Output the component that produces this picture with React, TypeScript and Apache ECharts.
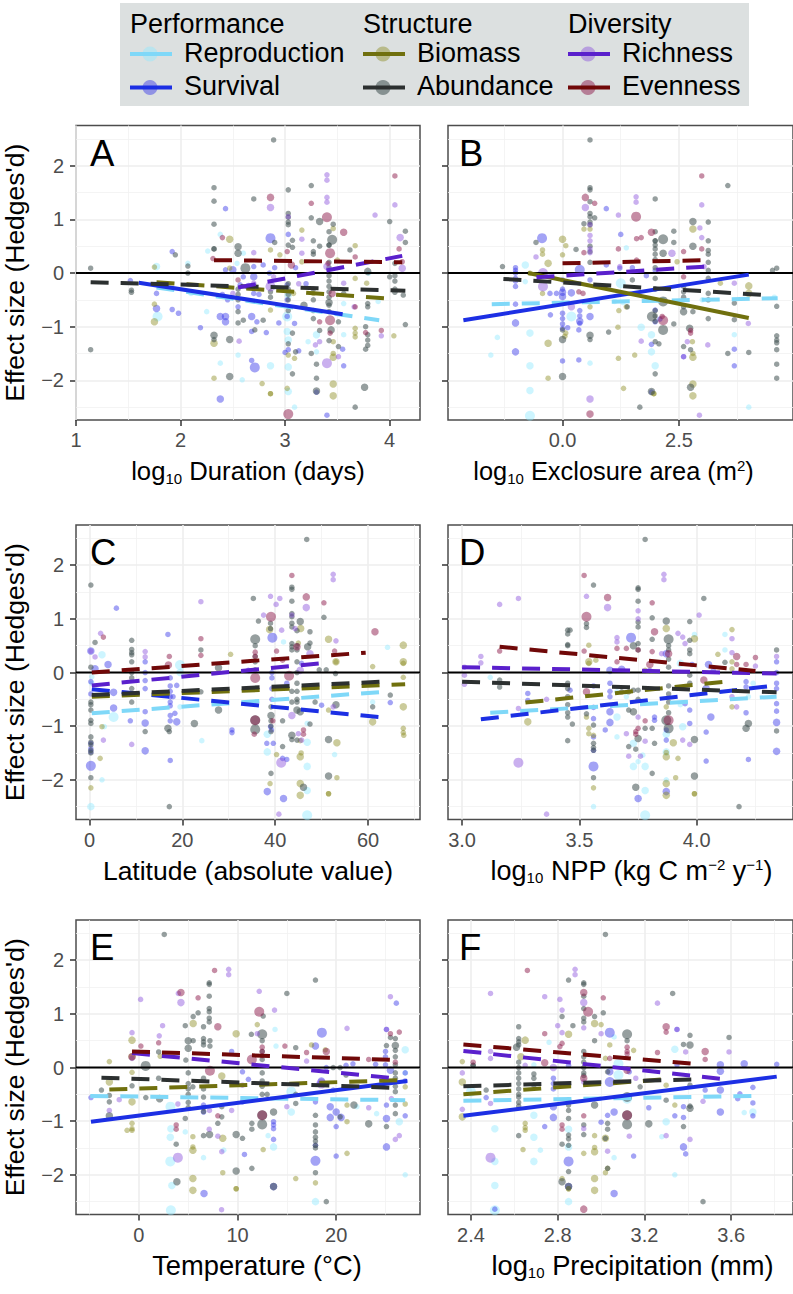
import React, { useEffect, useRef } from "react";
import * as echarts from "echarts";

// Each point: [x, effect size, weight class]; weight 1 when omitted.
const aReproduction = [[1.77,.12,2],[1.78,-.81,3],[2.38,.72],[2.26,.41],[2.07,.18],[2.25,-.72],[2.1,-.38],[2.38,-1.68],[2.55,-1.53],[2.59,-1.99],[2.86,-1.73,2],[3.03,-1.75,2],[3.03,-2.21,2],[3.09,-2.5],[3.02,-1.09,2],[3.02,-.81,3],[3.03,-.41,2],[3.3,-1.15,2],[3.3,-1.47],[3.22,-1.28],[3.56,-1.15],[3.56,-.57],[3.89,-.53],[2.6,.37],[2.54,.18],[3.03,-1.25,2],[3.8,0]];
const aSurvival = [[1.92,.4],[1.52,-.14],[1.77,-.38],[1.77,-.66,2],[1.92,-.68],[1.98,-.75],[2.19,-1.02],[2.43,1.2],[2.86,.65,3],[3.03,.72],[2.38,-.81,2],[2.43,-.81,2],[2.43,-.91,2],[2.38,-2.35,2],[2.68,-1.09],[2.73,-.91],[2.68,-.81,2],[2.68,-1.63],[2.71,-1.76,3],[2.82,-1.11],[2.94,-.93],[3.09,-.94],[3,-1.48],[3.13,-1.45],[3.03,-1.43],[3.3,-2.22],[3.4,-2.65],[3.55,-1.42],[3.56,-1.73],[2.55,-.63],[2.43,.06],[2.7,-.38],[2.7,.12],[2.79,.15],[2.6,-.07],[2.5,.06,2],[2.7,-.07,2],[2.57,-.22],[3.02,-.22],[3.02,-.5],[3.02,-.81],[2.75,-.4],[2.4,-.4],[2.45,-.5],[2.85,0],[3.1,.1],[3.2,-.2],[2.65,-.25,2],[2.9,.1]];
const aBiomass = [[1.75,.11],[1.75,-.91,2],[1.75,-.58],[2.47,.63,2],[2.32,-1.31,2],[2.32,-1.96],[2.78,-2.06],[2.86,-2.25],[2.86,-2.25],[2.86,.43],[2.86,-.69],[3.02,-2.15],[3.03,-1.53],[3.09,-1.59],[3.16,.8],[3.16,.21],[3.46,.83],[3.46,-1.5],[3.46,-1.57,2],[3.46,-2.07,2],[3.46,-2.29,2],[3.67,.51],[3.67,-.1],[3.67,-1.03],[3.67,-1.12],[3.67,-1.19],[4.04,-1.17],[3.78,-.19],[2.95,.34],[3.08,-.38],[3.27,-.38],[3.46,-1.28],[2.47,.09],[3.5,.24]];
const aAbundance = [[1.14,.09],[1.14,-1.43],[1.53,-.32],[1.53,-.36],[1.95,.34],[2.07,.13],[2.07,0],[2.89,2.48],[2.32,1.59],[2.32,1.34],[2.32,.91],[2.32,.45],[2.32,.45],[2.32,-1.16,2],[2.32,-1.24],[3.03,1.55],[3.25,1.63],[2.7,1.38],[3.03,1.11],[3.03,1.04],[3.03,.95],[3.03,.9],[3.25,1.03],[3.33,.96,2],[3.45,.62,3],[3.46,.91],[3.42,.77],[3.42,.52],[3.42,.52],[3.03,.52],[3.07,.48],[2.55,.49,2],[2.55,.37,2],[2.62,.09,3],[2.9,.57],[3.07,.61],[3.27,.6],[3.27,.4],[3.27,.35],[3.33,.5],[3.42,.2],[3.42,.1],[3.42,-.05],[3.42,-.15],[3.42,-.25],[3.42,-.35],[3.42,-.45],[3.42,-.55,2],[3.42,-.6],[3.42,-.72],[3.44,-1.06,2],[3.42,-1.26],[3.62,.43],[3.79,.03,2],[4,.96],[4.15,.78],[4.15,.57],[4.05,.18],[4.05,-.05],[4.05,-.15],[4.05,-.3],[4.05,-.36],[4.13,-.41],[4.15,-.96],[4,-.07],[3.79,-.57],[3.79,-.63],[3.77,-1],[3.79,-1.15],[3.79,-1.25],[3.79,-1.35],[3.77,-1.42],[3.76,-2.13,2],[3.67,-2.5],[2.55,-.3],[2.55,-.4],[2.55,-.5],[2.55,-.72],[2.55,-.93],[2.6,-.88],[2.47,-1.24,2],[2.47,-1.93,2],[2.71,-1.06],[2.79,-.88],[2.86,-.35],[2.86,-.45],[3.03,-.2],[3.03,-.3],[3.03,-.4],[3.03,-.5],[3.03,-.7],[3.03,-1.32],[3.07,-1.12],[3.07,-1.88],[3.1,-1.47],[3.18,-.6,2],[3.27,-.3],[3.27,-.5],[3.27,-.7],[3.27,-.85],[3.25,-1.5],[3.3,-1.7],[3.3,-1.96],[3.3,-2.2,2],[3.51,-.91],[3.51,-1.37],[3.33,-1.07],[3.56,-.38]];
const aRichness = [[3.4,1.83],[3.4,1.73],[3.4,1.41],[3.4,1.32],[2.86,1.22,2],[4.05,1.27],[3.86,1.08],[3.03,1.05],[3.16,.63],[4.1,.66,2],[2.7,.38],[3.16,.37],[4.12,.09,2],[3.92,-1.17],[3.4,-1.68,3],[2.56,-1.27],[3.29,-1.34],[3.33,-1.28],[3.51,-1.56],[2.5,-.38],[2.7,-.19],[3.66,-.63],[3.4,.12,2],[2.89,-.07],[2.86,-.25,3],[3.56,-.19],[3.13,-.2]];
const aEvenness = [[2.4,.66],[2.86,1.41,2],[3.25,1.3],[3.4,1.04,3],[3.56,.76,2],[4.05,1.81],[4.09,.45],[3.43,.37,3],[3.41,.18],[3.45,-.38,2],[3.43,-.88,3],[3.43,-1.12],[3.33,-.91],[3.77,-1.11],[3.92,-1.07],[3.03,-2.63,3],[2.31,.27],[3.06,.15,2],[3.67,.3],[3.67,-.63],[2.55,-.13],[4.12,.21],[3.02,.4]];

const bReproduction = [[-.8,.15,2],[-.8,-.16],[1.37,.47],[1.25,-.19,3],[1.12,-.53],[.19,-.81,3],[-.7,-1.12,2],[-1.4,-1.2],[-1.54,-1.53],[-.7,-1.73,2],[-.7,-2.19,2],[-.7,-2.66,3],[.59,-1.68],[1.69,-1.01,2],[1.91,-1.15,2],[1.91,-1.47,2],[1.99,-1.73,2],[3.69,-1.15],[4,-2.5],[2.16,-.5],[3,-.5],[1.3,-.55],[4.55,-.45]];
const bSurvival = [[-.44,.65,3],[.94,1.2],[1.25,.72],[-1.01,.1],[-1.01,.05],[-1.01,0],[-1.01,-.1],[-1.01,-.15],[-1.01,-.25],[-1.01,-.58],[-1.01,-.93,2],[-1.01,-1.47,2],[0,-1.64],[.35,-1.62],[0,-.13],[0,-.3],[0,-.36,2],[0,-.44,2],[0,-.75],[0,-.85],[0,-.95],[0,-1.03],[.11,-1.02],[-.26,-.78],[.37,-.7],[.37,-.8],[.37,-.9,2],[.37,-.94],[.35,-1.06],[.59,-.81,2],[.19,-.37,2],[.37,.06,3],[-.27,-.38],[-.13,-.38],[.59,-.13],[.94,.15],[1.23,.09],[1.99,-.69],[1.99,-.91],[1.91,-1.33],[2.09,-.86],[1.91,-2.22],[3.69,-1.42],[3.69,-1.73],[2.6,-1.56],[1.8,-.05],[1.5,.1],[1.99,.05]];
const bBiomass = [[0,.63,2],[.07,.51],[0,.34],[-.43,.43],[-.43,.35],[-.31,.18,2],[-.7,0],[-.43,-.38],[.59,.82],[.46,.82],[-.31,-1.31,2],[-.31,-1.96],[1.2,-1.59],[1.55,-1.53],[1.31,-2.15],[1.19,-1.01],[1.96,-2.25],[1.96,-2.25],[2.8,.82,2],[2.46,.21],[2.8,-1.5],[2.8,-1.57,2],[2.8,-2.07,2],[2.8,-2.29,2],[2.79,-1.28],[3.39,-.19],[4,-.24,2],[4,-.38,2],[.59,-.63],[.07,-1.12],[.05,-1.18],[1.21,-.7],[1.37,-.63]];
const bAbundance = [[.59,2.48],[-1.29,.12],[-.57,.57],[.59,1.59],[.59,1.55],[.59,1.33],[.59,1.11],[.59,1.05],[.59,.95],[.59,.9],[.69,1.03],[.46,.92],[.29,.44],[1.99,1.38],[1.99,.77],[1.99,.6],[1.99,.6],[1.99,.52],[1.99,.45],[1.99,.35],[1.99,.25],[1.99,.1],[1.99,-.1],[1.99,-.3],[2.16,.63,3],[2.16,.37,2],[2.39,.78],[2.39,.57],[2.8,.96,2],[2.8,.5,2],[3.13,.95],[3.13,.6],[3.13,.42],[3.13,.35],[3.13,.2],[3.13,.05],[3.13,-.1],[3.55,1.63],[4.6,.09],[4.51,.05],[3.69,-.56],[3.69,-.87],[4,-1.48],[3.55,-1.5],[4.6,-.62],[4.6,-1.17],[4.6,-1.25],[4.6,-1.3],[4.6,-1.43],[4.6,-1.7],[4.6,-1.96],[0,-1.24,2],[0,-1.93,2],[0,-1.06],[.59,-1.16,2],[.59,-1.24],[.99,-1.1],[1.99,-.7],[1.99,-.8],[1.99,-.9],[1.92,-.81,3],[2.16,-.53,3],[2.16,-1.06,3],[1.99,-1.28],[2.07,-1.32],[1.99,-1.88],[1.91,-2.21,2],[1.66,-2.5],[2.6,-.72,2],[2.6,-.63],[2.6,-.25],[2.6,-.35],[2.6,-.45],[2.6,-1.37],[2.8,-.72],[2.75,-1.43],[2.75,-2.13,2],[3.13,-.38],[3.13,-.5],[3.13,-.85],[2.39,-.95],[2.73,-1.03,2],[1.39,-.63],[1.5,-.13],[.59,.2],[.59,.4],[.59,.5]];
const bRichness = [[1.58,1.42],[1.58,1.32],[.49,1.22,2],[2.99,1.27],[1.2,1.08],[2.95,.84],[2.99,.66],[.59,.9],[.59,.7],[.59,.6],[.59,.45],[.59,.38],[2.35,.37,2],[-.57,.3],[3.12,-1.34],[1.69,-1.27],[2.68,-1.28],[2.6,-1.56],[2.94,-2.65],[.59,-2.35,2],[3.99,-.94],[3.69,-.19],[.19,-.63,2],[-.42,-.25,3],[-.42,0,3],[1.23,.12],[3.04,.12]];
const bEvenness = [[.49,1.41,2],[.69,1.3],[1.58,1.05,3],[1.91,.76,2],[2.99,1.81],[2.99,.45],[.46,.38],[1.2,.45],[1.59,.64],[1.69,.66],[2.16,-.88,3],[2.75,-1.07],[2.75,-1.12],[.59,-2.63,2],[2.6,.4],[2.6,-.07],[1.59,.24],[.44,-.38],[.35,-.35],[2.14,-.81]];

const cReproduction = [[2.7,.33,2],[2.7,-2],[.3,-2.5,2],[19.5,.14,3],[19.5,0,2],[5.2,-.83,3],[3.2,-1.01],[24.2,-1.27],[38.3,-1.48,2],[38.3,-1.15,2],[46.9,-1.75,2],[46.9,-1.3,2],[46.9,-2.66,3],[46.9,-2.2,2],[52.8,-1.53],[64.2,.47],[41.8,.57],[46.9,-.95],[19.5,-.64],[61,-.55],[.5,-.08],[.5,-.2]];
const cSurvival = [[5.8,1.2],[.3,.4,2],[16.9,.71],[4,.15,2],[1.2,.07,2],[.3,-.17],[.3,-.4],[5.2,-.37,2],[5.2,-.66,2],[.3,-1.74,3],[.3,-1.32],[.3,-1.42],[.3,-1.48],[12,.2],[12,0],[12,-.15],[12,-.3],[12,-.73],[12,-.94,2],[12,-1.46,2],[8.8,-.9],[17.4,-1.64],[17.4,-.1],[17.4,-.25],[17.4,-.35],[17.4,-.45],[17.4,-.55],[17.4,-.62],[17.4,-.8],[17.4,-.9],[18.8,-.92,2],[18.8,-.24],[18,-.45],[18.4,-.76],[30.7,-1.07],[30.7,-1.12],[39.4,.65,3],[38.3,-2.22,2],[41.8,-2.35,2],[41.6,-1.6],[42.5,-1.62],[39.3,0],[39.3,-.1],[39.3,-.3],[39.3,-.5],[39,-1.01],[38.2,-1.32],[39.2,-1.07],[39.6,-1.32],[64.8,-.56],[34.2,.04],[42.5,-.2],[45.7,.17],[50,-.61]];
const cBiomass = [[2.3,-1.6],[.3,-2.15],[2.7,-1.01],[30.4,.34],[38.8,.8,2],[45.5,.82,2],[51.5,.62,2],[53.1,.2,2],[53.1,.2],[61,.11],[61,-.92,2],[67.6,.51,2],[67.6,.2,2],[67.6,.17],[67.6,-.09],[67.6,-.64,2],[67.6,-1.04],[67.6,-1.12],[67.7,-1.17],[51.5,-.7],[53.3,-1.31,2],[53.3,-1.96],[51.5,-2.26],[51.5,-2.26],[45.4,-2.29,2],[45.4,-2.07,2],[45.4,-1.57,2],[45.6,-1.5],[38.9,-2.07],[40.3,-1.53],[45.4,-1.27],[45,.55]];
const cAbundance = [[.3,1.63],[1.2,.56],[.3,.1],[.3,-.55],[.3,-.6],[.3,-.7],[.3,-.89],[.3,-.95],[.3,-1.2],[.3,-1.3],[.3,-1.35],[.3,-1.45],[.3,-1.5],[.3,-1.96],[9.1,.6],[9.1,.43],[9.1,.37],[9.1,.33],[9.1,.2],[9.1,0],[9.1,-.1],[9.1,-.3],[9.1,-.55],[17.2,-2.5],[16.9,-1.04,2],[17.2,-1.1],[12,-1.1],[24,.42],[24,-.36],[22.6,-.95,2],[27.8,.09,2],[27.8,-.7,2],[35.3,1.38],[36.4,.96],[35.7,.62,3],[35.7,.5],[35.7,-1.06,3],[35.7,-.89,3],[39,.92],[39,.82],[35.7,.3],[35.7,.2],[35.7,.05],[39.1,-.64],[39.1,-.8,2],[39.1,-.9],[39.1,-1],[39.1,-1.1],[39.1,-1.88],[41.6,-1.38],[41.6,-.9],[43.6,1.59],[43.6,1.55],[43.6,1.33],[43.6,1.1],[43.6,1.04],[43.6,.92],[43.6,.85],[45.4,.95,2],[44.7,.78],[47.5,.76],[43.6,.54],[43.6,.48],[43.6,.42],[44.7,.5],[44.7,.42],[47,.48,2],[47.5,.55],[44.7,.2],[44.7,0],[44.7,-.2],[44.7,-.35],[44.7,-.5],[44.7,-.55],[44.7,-.7,2],[43.6,-.35],[43.6,-.55],[45.4,-.73,2],[46.8,2.48],[43.6,-1.17,2],[43.6,-1.25],[44.7,-1.26],[47.5,-.96],[46.1,-2.14,2],[51.5,-1.25,2],[51.5,-1.93,2],[50.5,1.03],[53.1,-.6,2],[48.6,-.55],[64.8,-.42],[61,-.64],[49.5,.05],[51,.05],[53,-.02]];
const cRichness = [[2.4,.73],[1.2,.29],[52.5,1.83],[52.5,1.73],[39,1.42],[41,1.38],[40.2,1.27],[46.7,1.21,2],[37.5,1.07],[24,1.32],[53.1,.59],[43.6,1.07],[44.3,.82],[41.4,.79],[3,-1.26],[9.1,-1.34],[41.3,-1.68,3],[40.8,-2.64],[43.6,-.8,2],[45.4,.04,2],[12,.39],[12,.29],[.3,.4],[45.7,-1.26],[45,-1.14],[52.5,-.64],[47.5,.35,2]];
const cEvenness = [[3,.66],[39.1,1.04,3],[43.6,1.81],[46.7,1.41,2],[50.5,1.3],[61.5,.76,2],[24,.63],[17.2,.3],[17,.14,2],[24,.32],[35.7,-.89,3],[35.5,-1.15],[46.1,-1.07],[46.1,-1.15],[52.8,.4],[44.7,.48,2],[43,-.06,3],[40.3,.4],[35.7,.38],[35.7,.3],[35.7,-.1,3],[41.6,.23],[39.5,-.9]];

const dReproduction = [[3.12,-.09],[4.12,.71],[4.12,.42],[3.99,.71],[3.94,-1.01,2],[3.66,-.83,2],[3.66,-1.2],[3.73,-1.32,2],[3.73,-1.75,2],[3.75,-1.66],[3.78,-1.75,2],[3.77,-1.54],[3.78,-2.2,2],[3.78,-2.66,3],[3.56,-2.5],[3.87,-2],[3.87,-1.48,2],[3.87,-1.15,2],[3.93,-.6],[4.24,-.2],[3.93,.17,2],[3.7,-.45],[3.66,-.36],[4.22,-.45]];
const dSurvival = [[3.72,.65,3],[4.05,.15,2],[3.98,.15],[4.34,.2],[4.34,0],[4.34,-.2],[4.34,-.3],[4.34,-.58],[4.34,-.72],[4.34,-.93,2],[4.34,-1.47,2],[4.22,-1.62],[4.04,-1.65],[4.21,-.75],[4.06,-.83,2],[4.04,-1.11],[4.04,-.3,2],[3.63,-.93,2],[3.63,-.73,2],[3.63,-.2],[3.63,-.35],[3.63,-.45],[3.56,-1.75,3],[3.56,-.86],[3.61,-1.07],[3.56,-1.2],[3.56,-1.45],[3.75,-2.35,2],[3.87,-2.22,2],[3.82,-.83],[3.82,-.89],[3.8,.04],[3.63,.04,2],[3.68,.06,2],[3.46,-.33],[3.28,-.39],[3.28,-.52],[3.87,.35,2],[3.95,-.58],[3.87,-1.07],[3.87,-1.26],[3.97,-.7],[3.97,-.95],[4.07,.04],[4.21,-.17],[4.21,-.27],[3.56,-.25],[3.56,-.65]];
const dBiomass = [[3.54,.51],[3.54,.2,2],[3.54,.17],[3.57,.23],[3.54,-1.04],[3.54,-1.14],[3.56,-1.17],[3.56,-2.15],[3.28,-.92,2],[3.87,.82,2],[3.99,.63,2],[4.15,.8],[4.09,.34],[4.15,.2],[4.15,.07],[4.15,-.64],[3.87,-1.57,2],[3.87,-2.07,2],[3.87,-2.29,2],[3.91,-1.96],[3.99,-2.26],[3.99,-2.26],[3.92,-1.6],[3.9,-1.31,2],[3.87,-1.49],[3.87,-.64],[3.53,-.83],[3.78,.04]];
const dAbundance = [[3.78,2.48],[3.56,1.63],[3.75,1.58],[3.75,1.55],[3.75,1.33],[3.81,1.02],[4.03,1.38],[3.75,.94],[3.75,.85],[3.87,.96,2],[3.97,.95],[3.53,.91],[3.53,.84],[3.45,.79],[3.46,.79],[3.45,.72],[3.45,.52],[3.45,.5],[3.88,.62,3],[3.88,.5],[3.73,.5,2],[3.75,.54],[3.75,.42],[3.81,.62],[3.97,.6],[3.97,.42],[3.97,.35],[3.97,-.05],[3.97,-.2],[3.88,.42],[3.88,.25],[3.88,.1],[3.88,-.25],[3.88,-.4],[3.88,-.55],[3.88,-.75],[3.88,-1.04,3],[3.87,-.89,3],[3.73,-.73,2],[3.75,-.33],[3.75,-.5],[3.71,-.7],[3.81,-1.04],[3.78,-1.04],[3.73,-.33],[3.75,-1.23,2],[3.71,-1.38],[3.74,-1.43],[3.45,-1.27],[3.47,-.96],[3.45,-.2],[3.45,-.3],[3.45,-.45],[3.45,-.6],[3.45,-.75],[3.45,-.83],[3.56,-.98],[3.56,-1.32],[3.56,-1.4],[3.56,-1.45],[3.56,-1.96],[3.99,-1.25,2],[3.99,-1.93,2],[3.74,-2.14,2],[4.18,-2.5],[4.21,-1.04,2],[4.22,-.95,2],[4.34,-1.09],[4.34,.42],[4.12,.19],[3.16,-.14],[3.16,-.27],[3.81,-1.88],[3.82,-1.32],[3.53,-.77],[3.68,-.36],[3.71,-.36]];
const dRichness = [[3.86,1.83],[3.86,1.73],[3.53,1.42],[3.24,1.38],[3.16,1.27],[3.62,1.21,2],[4.01,1.07],[3.66,.65],[3.66,.57],[3.92,.73],[3.94,.66],[4.15,.63],[4.15,.37],[4.25,.12],[3.08,.3],[3.08,.18],[3.01,.1],[3.01,-.05],[3.01,-.22],[3.24,-1.68,3],[3.36,-2.64],[3.75,-.83],[3.71,-1.56],[3.76,-1.56],[3.7,-1.14],[3.78,-1.28],[3.94,-1.26],[3.97,-1.34],[3.75,1.15],[3.75,1],[3.24,-.67],[3.36,-.5],[3.85,.35],[3.95,.54],[4.15,-.45],[4.17,-.64],[4.34,.3]];
const dEvenness = [[3.52,1.81],[3.62,1.4,2],[3.53,1.04,3],[3.81,1.3],[3.82,.76,2],[3.16,.4],[3.52,.4],[3.66,.45],[3.7,.45],[3.75,.42],[3.81,.39],[3.88,.35,2],[4.17,.3,2],[4.21,.15],[4.17,.15],[4.25,.28],[3.74,-1.1],[3.74,-1.15],[3.78,-.9],[3.88,-.89,3],[3.53,-.36,2],[4.03,-.14,2],[3.8,.15,2],[3.66,.2],[3.75,-1.04]];

const eReproduction = [[27,.33,2],[27,-2],[17.9,-2.5,2],[13.8,.71],[13.9,.4],[15.45,-.83,2],[15.45,-.45,3],[24.1,-.86],[26.4,-1.01,2],[13.65,-1.48,2],[13.1,-1.27],[3.2,-.73,3],[3.24,-1.14,2],[3.18,-1.3,2],[3.18,-1.75,3],[3.34,-2.2,2],[3.24,-2.66,3],[4.7,-1.2],[6.55,-1.68],[8.6,-1.54],[22.1,-.73],[27,-.1]];
const eSurvival = [[18.55,.65,3],[26.1,1.2],[25.1,.71],[25,.3],[25,.2],[25,.05],[17.9,.4,2],[17.9,-.64],[17.9,-1.74,3],[17.9,-1.45],[18.3,-.3],[18.5,-.25,2],[19,0],[19.7,-.42],[19.4,-.93,2],[19.4,-.73,2],[20,-.83,2],[20,-1.1],[20.5,-.93,2],[20,-1.65],[21,.04],[25.1,-1.48,2],[27,-.9],[25.1,-.95,2],[25.1,-.7],[27,-.1],[27,-.25],[10.7,-1.62],[13.65,-1.01],[13.65,-1.07],[13.65,-1.14],[13.65,-1.34],[6.6,-2.35,2],[13.65,-2.22,2],[6.55,-.7],[6.55,-.83],[10.5,-.08],[10.5,-.64],[11.1,-.22],[9.4,.3],[-4.86,-.56],[24,.06],[21.7,.07],[25.5,-.05,2]];
const eBiomass = [[-3,.11],[-3,-.27,2],[-.7,.51,2],[-.7,.2,2],[-.7,-.09],[-.7,-.64,2],[-.7,-1.04],[-.7,-1.14],[-1.2,-1.17],[-.7,-1.17],[5.5,.82,2],[9.86,.63,2],[12,.8],[5.47,-1.54,2],[5.47,-1.29],[5.47,-1.48],[5.47,-2.07,2],[5.47,-2.29,2],[8.5,-1.32,2],[8.5,-1.96],[9.86,-2.26],[9.86,-2.26],[12.6,-1.53],[15.9,-2.07],[17.9,-2.15],[21.1,-1.6],[21.1,-1.01],[8.4,-.16,2],[17.5,.42],[27,-.68],[21.1,-.7],[27,-.36],[2.16,.21],[18.9,.33]];
const eAbundance = [[2.57,2.48],[17.9,1.63],[15,1.38],[7.13,1.58],[7.13,1.55],[7.13,1.33],[7.13,1.1],[7.13,1.04],[7.13,.92],[7.13,.85],[5.5,.95],[6,1.02],[4.7,.78],[6.55,.76],[6.55,.54],[6.55,.48],[6.55,.42],[5,.5,2],[5,.36,2],[5.5,.5],[7.2,.5],[7.2,.4],[12.5,.62,3],[12.5,.5],[12.6,.96],[11.4,.62],[.68,.03,3],[2,.29],[2,-.2],[4.76,.14],[5,-.1],[5,-.3],[5,-.4],[5,-.5],[5,-.65],[5,-.75],[5.47,-.36],[6.55,-.2],[6.55,-.4],[6.55,-.55],[6.55,-.75],[6.55,-.82],[4.7,-.95],[-3.8,-.42],[-3,-.64],[-3,-.52],[-3,-.9,2],[-.7,-.34],[.7,-.56],[2.1,-.58,2],[3.85,-2.13,2],[3.78,-1.43],[7.16,-1.25,2],[6.55,-1.27],[8,-1.04],[8.4,-.92],[8.4,-.73],[9.86,-1.25,2],[9.86,-1.93,2],[10.5,-1.32],[11.45,-1.04],[11.45,-1.15],[11.45,-1.88],[12.5,-1.06,3],[12.5,-.89,3],[12.5,.3],[12.5,.15],[12.5,-.1],[12.5,-.25],[12.5,-.35],[12.5,-.5],[13.65,-.83,2],[13,-.5],[13.65,-2.22,2],[15.9,-.5],[15.9,-.67],[15.9,.37],[17.9,-1.2],[17.9,-1.3],[17.9,-1.37],[17.9,-1.45],[17.9,-1.5],[17.9,-.89],[17.9,-1.07],[17.9,-1.96],[19,-2.5],[23.3,-1.05,2],[21.8,-.7,2],[20.4,0],[19.7,0],[20.4,-.92],[25.1,-1.1],[25.1,.41],[26,.41,2],[26,.54],[25.5,.56],[26,.32],[26,.2],[26,.05],[26,-.1],[26,-.2],[26,-.35],[26,-.45],[26,-.7],[26,-.86],[21,-.14]];
const eRichness = [[9.1,1.73],[9.1,1.83],[.17,1.27],[4.26,1.21,2],[4,1.38],[12.2,1.42],[13.75,1.07],[-.7,.65],[2.4,.78],[2.06,.59],[-.7,.17],[-3,-.8],[-2,-.6],[21.1,.73],[25.5,1.32],[25.1,.71],[3.95,-1.68,3],[8.38,-2.65],[8.4,-1.57],[8,-1.28],[7.15,-.8],[7.13,-1.15],[26.4,-1.27],[26,-1.34],[3.95,-.68],[9.4,-.8],[12,.63],[17,.12],[23.3,-.75],[25.6,-.58],[15,-.73],[10.5,-.33],[18.5,-.3,3]];
const eEvenness = [[7.67,1.81],[4.26,1.4,2],[6,1.3],[12.2,1.04,3],[8,.76,2],[26.4,.66],[25.5,.63],[2,.46],[.2,.4],[-.7,.2,2],[14.8,.4],[17,.28],[19,.3,2],[23.3,.15],[11.45,.15,3],[7.2,-.06,3],[12.5,-.89,3],[12.5,.38],[12.5,.3],[12.5,.22],[3.78,-1.15],[3.78,-1.07],[8,-.9],[26,.1]];

const fReproduction = [[3.34,.34,2],[3.34,-2],[2.85,-2.5,2],[2.51,-1.75,2],[2.51,-2.2,2],[2.51,-2.66,3],[2.51,-1.14,2],[2.69,-1.3,2],[2.69,-1.75,2],[2.72,-1.54],[2.69,-.89,2],[3.7,-.83,2],[3.66,-.84],[3.3,-1.01,2],[3.06,-1.68],[2.85,-1.48,2],[2.85,-1.15,2],[2.76,.47],[2.69,.05],[3.08,.07,3],[3.08,-.14,3],[3.12,-.58,3],[2.4,-.45,3],[3.28,-1.29],[3.06,.57]];
const fSurvival = [[3.04,.65,3],[3.55,.05,2],[3.66,.07,2],[3.81,.06],[3.55,-.07,2],[3.55,-.42,2],[3.55,-.83,2],[3.7,-.37],[3.64,-.49],[3.63,-.58],[3.7,-.66],[3.7,-.9],[2.51,-2.64],[3.06,-2.35,2],[2.85,-1.75,3],[2.85,-2.22,2],[3.15,-1.65],[3.38,-1.48,2],[3.39,-1.61],[2.78,-.93,2],[2.78,-.73,2],[2.78,-.2],[2.78,-.3],[2.78,-.4],[2.74,-1.1],[3,-1.02],[3.06,-.83,2],[3.03,-.89],[3.22,-.75],[3.34,-.9],[3.38,-.73],[3.38,-.93],[3.04,-.08,2],[3.04,-.27,3],[3.48,-.42],[2.47,-.56],[3.35,.05],[2.85,.04],[3.13,-.08],[3.35,.71]];
const fBiomass = [[2.36,.11],[2.36,-.27,2],[2.36,-.92,2],[2.63,.2,2],[2.65,.51,2],[2.65,-1.04],[2.65,-1.12],[2.65,-1.17],[2.64,-1.53],[2.85,.62,2],[2.97,.82,2],[3,.8],[3.04,.42],[2.97,-1.57,2],[2.97,-1.49],[2.97,-1.27],[2.92,-1.6],[3.02,-1.32,2],[3.03,-1.88],[3.02,-1.96],[2.97,-2.07,2],[2.97,-2.29,2],[2.85,-2.26],[2.85,-2.26],[2.82,-2.07],[3.34,-.7],[3.3,-.33],[3.15,.32],[3.02,.17]];
const fAbundance = [[3.02,2.48],[2.85,1.63],[3.33,1.38],[2.92,1.58],[2.92,1.55],[2.92,1.33],[3.01,1.02],[2.97,.95],[2.82,.95],[2.92,1.1],[2.92,.92],[2.92,.85],[2.87,.78],[2.62,.76],[2.62,.54],[2.62,.48],[2.62,.42],[2.61,.38,2],[3.12,.62,3],[3.12,.5],[2.97,.5],[3.41,.6],[3.41,.42,2],[3.38,.43],[3.59,.56],[2.62,.1],[2.62,0],[2.62,-.1],[2.62,-.2],[2.62,-.3],[2.62,-.4],[2.62,-.5],[2.62,-.55],[2.62,-.65],[2.62,-.72],[2.69,-.12],[2.69,-.2],[2.69,-.33],[2.85,-.33],[2.85,-.6],[2.85,-.7],[2.85,-.8],[2.85,-.95],[2.85,-1.26],[2.85,-1.33],[2.85,-1.45],[2.82,-1.43],[2.85,-1.94],[2.82,-2.13,2],[2.85,-2.22,2],[2.62,-1.27],[2.92,-1.07],[2.92,-1.25],[2.97,-.7,2],[3.03,-1.04],[3.03,-1.15],[3.02,-1.32],[3.03,-1.88],[3.12,-1.06,3],[3.12,-.89,3],[3.12,-.55,3],[3.18,-.36],[3.22,-1.05,2],[3.3,-.61],[3.38,-1.1],[3.41,-.72],[3.41,-.76,2],[3.41,-.33],[3.47,-2.5],[2.47,-.42],[2.41,.04],[2.41,.04],[2.92,.3],[2.92,.2],[2.92,.1],[2.92,0],[2.92,-.1],[2.92,-.15],[3.03,-.08]];
const fRichness = [[2.88,1.83],[2.88,1.73],[2.49,1.38],[2.74,1.32],[2.81,1.27],[2.82,1.07],[2.8,.78],[2.82,.65],[2.92,1.21,2],[2.92,.74],[3.26,1.2],[3.35,.71],[3,.63],[3.59,.29],[2.49,.3],[2.49,.17],[2.36,-.1],[2.36,-.78],[2.49,-.67],[2.49,-1.68,3],[2.92,-1.14],[3.03,-1.56],[3.13,-1.28],[3.3,-1.27],[3.41,-1.34],[3.47,-.63],[2.65,.04],[2.78,0,2],[3.16,-.2],[3.39,.29],[2.92,-.27]];
const fEvenness = [[2.66,1.81],[3.01,1.3],[2.92,1.4,2],[2.94,1.04,3],[3.3,.76,2],[3.3,.66],[2.74,.63],[3.48,.3,2],[3.48,.15],[3.26,.28],[2.82,.45],[2.81,.39],[2.74,.09,2],[2.41,.1],[2.82,-1.07],[2.82,-1.15],[2.92,-2.64,2],[3.12,-.89,3],[3.12,.38],[3.12,.3],[3.12,.25],[2.92,-.2,2],[3.04,.17],[3.12,-.05,2],[2.92,-.9]];

// Trend end points, in the order of seriesNames.
const trendsA = [[[1.77,-.27],[3.9,-.88]],[[1.6,-.18],[3.55,-.77]],[[1.77,-.17],[3.95,-.47]],[[1.14,-.17],[4.15,-.33]],[[2.55,-.27],[4.12,.32]],[[2.32,.24],[4.12,.2]]];
const trendsB = [[[-1.52,-.58],[4.62,-.47]],[[-2.13,-.88],[4,-.03]],[[-.74,0],[4,-.84]],[[-1.27,-.11],[4.33,-.41]],[[-.56,-.08],[3.09,.12]],[[0,.18],[3.09,.24]]];
const trendsC = [[[.5,-.76],[63.3,-.36]],[[.5,-.31],[63.3,-.84]],[[.5,-.45],[68,-.22]],[[.5,-.42],[63.3,-.17]],[[.5,-.24],[50.7,.18]],[[.5,0],[59.5,.37]]];
const trendsD = [[[3.12,-.75],[4.34,-.45]],[[3.08,-.87],[4.34,-.24]],[[3.27,-.56],[4.12,-.17]],[[3,-.17],[4.34,-.37]],[[3,.1],[4.34,-.02]],[[3.16,.48],[4.25,.03]]];
const trendsE = [[[-4.93,-.53],[27,-.61]],[[-4.86,-1.01],[27.2,-.25]],[[-3,-.41],[27.2,-.23]],[[-3.8,-.19],[26.1,-.38]],[[-.7,.27],[26,-.2]],[[-.7,.3],[26.1,.14]]];
const trendsF = [[[2.365,-.62],[3.706,-.53]],[[2.365,-.9],[3.81,-.17]],[[2.365,-.5],[3.29,-.22]],[[2.365,-.35],[3.43,-.22]],[[2.365,.31],[3.57,-.22]],[[2.365,.43],[3.43,.07]]];

const seriesNames = ["Reproduction", "Survival", "Biomass", "Abundance", "Richness", "Evenness"];
const groupNames = ["Performance", "Structure", "Diversity"];
const panelLetters = ["A", "B", "C", "D", "E", "F"];
const yTicks = [-2, -1, 0, 1, 2];
const yMinor = [-2.5, -1.5, -0.5, 0.5, 1.5, 2.5];
const yExtent = [-2.74, 2.75];
const xExtents = [[1, 4.29], [-2.46, 4.95], [-2.9, 71.2], [2.94, 4.41], [-6.38, 28.5], [2.294, 3.885]];
const xTicks = [[1, 2, 3, 4], [0, 2.5], [0, 20, 40, 60], [3, 3.5, 4], [0, 10, 20], [2.4, 2.8, 3.2, 3.6]];
const xMinor = [[1.5, 2.5, 3.5], [-1.25, 1.25, 3.75], [10, 30, 50, 70], [3.25, 3.75, 4.25], [-5, 5, 15, 25], [2.6, 3, 3.4, 3.8]];
const xDecimals = [0, 1, 0, 1, 0, 1];
const yTitle = "Effect size (Hedges'd)";
const xTitles = [
  "{n|log}{s|10}{n| Duration (days)}",
  "{n|log}{s|10}{n| Exclosure area (m}{u|2}{n|)}",
  "{n|Latitude (absolute value)}",
  "{n|log}{s|10}{n| NPP (kg C m}{u|−2}{n| y}{u|−1}{n|)}",
  "{n|Temperature (°C)}",
  "{n|log}{s|10}{n| Precipitation (mm)}",
];

const pointSets = [
  [aReproduction, aSurvival, aBiomass, aAbundance, aRichness, aEvenness],
  [bReproduction, bSurvival, bBiomass, bAbundance, bRichness, bEvenness],
  [cReproduction, cSurvival, cBiomass, cAbundance, cRichness, cEvenness],
  [dReproduction, dSurvival, dBiomass, dAbundance, dRichness, dEvenness],
  [eReproduction, eSurvival, eBiomass, eAbundance, eRichness, eEvenness],
  [fReproduction, fSurvival, fBiomass, fAbundance, fRichness, fEvenness],
];
const trendSets = [trendsA, trendsB, trendsC, trendsD, trendsE, trendsF];
const solidTrends = [["Survival"], ["Survival", "Biomass"], [], [], ["Survival"], ["Survival"]];

const FONT = "'Liberation Sans', Arial, sans-serif";
const lineColors = ["#7fd8f8", "#1c2fe4", "#70700e", "#2c3030", "#5a20cc", "#700808"];
const pointColors = ["#90e8ff", "#3333e8", "#8c8c22", "#3f5050", "#8a50dc", "#8e1c4c"];
const pointOpacity = [0.45, 0.45, 0.45, 0.55, 0.45, 0.5];
const dotSizes = [5.5, 7.5, 10];
const LEFT = [76, 448];
const TOP = [125.5, 525, 920];
const W = [344, 346];
const H = 294.5;
const titleSizes = [25.7, 25.4, 26.5, 27, 27.3, 27.3];
const titlePadding = [[0, 0, 0, 0], [0, 14, 0, 0], [0, 0, 0, 0], [0, 0, 0, 22], [0, 0, 0, 18], [0, 0, 0, 24]];

function buildOption() {
  const grid: any[] = [], xAxis: any[] = [], yAxis: any[] = [], series: any[] = [], graphic: any[] = [];
  panelLetters.forEach((letter, p) => {
    const col = p % 2, row = Math.floor(p / 2);
    grid.push({ left: LEFT[col], top: TOP[row], width: W[col], height: H, show: true, borderColor: "#4d4d4d", borderWidth: 1.5, backgroundColor: "transparent", containLabel: false });
    xAxis.push({
      type: "value", gridIndex: p, min: xExtents[p][0], max: xExtents[p][1], scale: true,
      axisLine: { show: false, onZero: false }, splitLine: { show: false },
      axisTick: { show: true, length: 6, customValues: xTicks[p], lineStyle: { color: "#333333", width: 1.5 } },
      axisLabel: { show: true, customValues: xTicks[p], margin: 10, fontFamily: FONT, fontSize: 20, color: "#4d4d4d", formatter: (v: number) => v.toFixed(xDecimals[p]) },
      name: xTitles[p], nameLocation: "middle", nameGap: 35,
      nameTextStyle: {
        fontFamily: FONT, color: "#000", padding: titlePadding[p],
        rich: {
          n: { fontFamily: FONT, fontSize: titleSizes[p], color: "#000", lineHeight: 32, verticalAlign: "middle" },
          s: { fontFamily: FONT, fontSize: 15, color: "#000", lineHeight: 15, padding: [14, 0, 0, 0] },
          u: { fontFamily: FONT, fontSize: 15, color: "#000", lineHeight: 15, padding: [0, 0, 12, 0] },
        },
      },
    });
    yAxis.push({
      type: "value", gridIndex: p, min: yExtent[0], max: yExtent[1], scale: true,
      axisLine: { show: false, onZero: false }, splitLine: { show: false },
      axisTick: { show: true, length: 6, customValues: yTicks, lineStyle: { color: "#333333", width: 1.5 } },
      axisLabel: { show: col === 0, customValues: yTicks, margin: 12, fontFamily: FONT, fontSize: 20, color: "#4d4d4d", formatter: (v: number) => String(v).replace("-", "−") },
      name: col === 0 ? yTitle : "", nameLocation: "middle", nameGap: 48, nameRotate: 90,
      nameTextStyle: { fontFamily: FONT, fontSize: 26.5, color: "#000" },
    });
    series.push({
      type: "line", xAxisIndex: p, yAxisIndex: p, data: [], z: 1, silent: true, showSymbol: false,
      markLine: {
        z: 1, silent: true, symbol: "none", label: { show: false }, animation: false, precision: 6,
        data: [
          ...xMinor[p].map((v) => ({ xAxis: v, lineStyle: { color: "#f1f1f1", width: 0.8, type: "solid" } })),
          ...yMinor.map((v) => ({ yAxis: v, lineStyle: { color: "#f1f1f1", width: 0.8, type: "solid" } })),
          ...xTicks[p].map((v) => ({ xAxis: v, lineStyle: { color: "#eeeeee", width: 1.6, type: "solid" } })),
          ...yTicks.map((v) => ({ yAxis: v, lineStyle: { color: "#eeeeee", width: 1.6, type: "solid" } })),
        ],
      },
    });
    seriesNames.forEach((name, i) => {
      series.push({
        type: "scatter", name, xAxisIndex: p, yAxisIndex: p, z: 2, silent: true,
        data: pointSets[p][i].map((d: number[]) => [d[0], d[1], d[2] || 1]),
        symbolSize: (v: number[]) => dotSizes[v[2] - 1],
        itemStyle: { color: pointColors[i], opacity: pointOpacity[i] },
      });
    });
    series.push({
      type: "line", xAxisIndex: p, yAxisIndex: p, z: 3, silent: true, showSymbol: false,
      data: [[xExtents[p][0], 0], [xExtents[p][1], 0]],
      lineStyle: { color: "#000", width: 2 },
    });
    seriesNames.forEach((name, i) => {
      series.push({
        type: "line", name: name + " trend", xAxisIndex: p, yAxisIndex: p, z: 4, silent: true, showSymbol: false,
        data: trendSets[p][i],
        lineStyle: { color: lineColors[i], width: 4, cap: "butt", type: solidTrends[p].includes(name) ? "solid" : [18, 12] },
      });
    });
    graphic.push({
      type: "text", x: LEFT[col] + (col === 1 ? 11 : 14), y: TOP[row] + 9,
      style: { text: letter, font: `36.5px ${FONT}`, fill: "#000" }, z: 10,
    });
  });

  // Legend panel
  graphic.push({ type: "rect", shape: { x: 120, y: 3, width: 629, height: 103 }, style: { fill: "#dce0e0" }, z: 5 });
  const colX = [130, 363, 568];
  groupNames.forEach((g, c) => {
    graphic.push({ type: "text", x: colX[c], y: 10, style: { text: g, font: `27px ${FONT}`, fill: "#000" }, z: 6 });
    [0, 1].forEach((r) => {
      const i = c * 2 + r;
      const y = 54 + r * 33.5;
      graphic.push({ type: "circle", shape: { cx: colX[c] + 20, cy: y, r: 7.5 }, style: { fill: pointColors[i], opacity: pointOpacity[i] }, z: 6 });
      graphic.push({ type: "line", shape: { x1: colX[c], y1: y, x2: colX[c] + 42, y2: y }, style: { stroke: lineColors[i], lineWidth: 4 }, z: 7 });
      graphic.push({ type: "text", x: colX[c] + 54, y: y - 15, style: { text: seriesNames[i], font: `27px ${FONT}`, fill: "#000" }, z: 6 });
    });
  });
  return { animation: false, backgroundColor: "#ffffff", grid, xAxis, yAxis, series, graphic };
}

export default function App() {
  const ref = useRef<HTMLDivElement>(null);
  useEffect(() => {
    document.body.style.margin = "0";
    const chart = echarts.init(ref.current!, undefined, { renderer: "svg" });
    chart.setOption(buildOption() as any);
    return () => chart.dispose();
  }, []);
  return <div ref={ref} style={{ width: 793, height: 1294 }} />;
}
